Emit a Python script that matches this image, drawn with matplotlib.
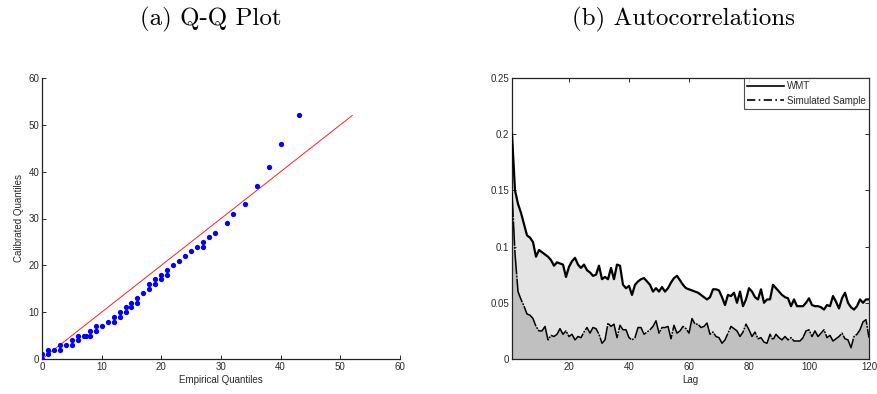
import numpy as np
import matplotlib
matplotlib.use("Agg")
import matplotlib.pyplot as plt
from matplotlib.lines import Line2D

# Q-Q plot: empirical vs calibrated quantiles
empirical = [0, 0, 1, 1, 2, 3, 3, 4, 5, 5, 6, 6, 7, 7.4, 8, 8, 9, 9, 10, 11,
             12, 12, 13, 13, 14, 14, 15, 15, 16, 16, 17, 18, 18, 19, 19, 20, 20,
             21, 21, 22, 23, 24, 25, 26, 27, 27, 28, 29, 31, 32, 34, 36, 38, 40, 43]
calibrated = [0, 1, 1, 2, 2, 2, 3, 3, 3, 4, 4, 5, 5, 5, 5, 6, 6, 7, 7, 8,
              8, 9, 9, 10, 10, 11, 11, 12, 12, 13, 14, 15, 16, 16, 17, 17, 18,
              18, 19, 20, 21, 22, 23, 24, 24, 25, 26, 27, 29, 31, 33, 37, 41, 46, 52]
ref_line = [0, 52]

# Autocorrelations by lag
lags = np.arange(1, 121)
acf_wmt = [
    0.200, 0.150, 0.138, 0.130, 0.120, 0.110, 0.108, 0.104, 0.091, 0.097,
    0.095, 0.093, 0.091, 0.088, 0.083, 0.086, 0.085, 0.084, 0.073, 0.082,
    0.087, 0.090, 0.084, 0.081, 0.084, 0.079, 0.077, 0.074, 0.075, 0.083,
    0.071, 0.073, 0.071, 0.081, 0.071, 0.084, 0.083, 0.066, 0.063, 0.065,
    0.057, 0.066, 0.069, 0.071, 0.072, 0.069, 0.066, 0.060, 0.063, 0.060,
    0.064, 0.060, 0.063, 0.068, 0.072, 0.074, 0.070, 0.066, 0.063, 0.062,
    0.061, 0.060, 0.059, 0.057, 0.055, 0.053, 0.055, 0.062, 0.062, 0.061,
    0.055, 0.048, 0.057, 0.056, 0.059, 0.050, 0.060, 0.047, 0.053, 0.063,
    0.060, 0.055, 0.053, 0.062, 0.050, 0.053, 0.053, 0.066, 0.063, 0.060,
    0.057, 0.055, 0.054, 0.047, 0.053, 0.047, 0.047, 0.047, 0.050, 0.054,
    0.048, 0.047, 0.047, 0.046, 0.044, 0.048, 0.047, 0.056, 0.051, 0.045,
    0.054, 0.059, 0.050, 0.046, 0.044, 0.047, 0.053, 0.050, 0.053, 0.053]
acf_sim = [
    0.148, 0.094, 0.060, 0.053, 0.047, 0.040, 0.039, 0.036, 0.029, 0.025,
    0.025, 0.029, 0.017, 0.021, 0.020, 0.022, 0.027, 0.022, 0.025, 0.020,
    0.022, 0.017, 0.020, 0.019, 0.024, 0.028, 0.023, 0.028, 0.027, 0.022,
    0.014, 0.017, 0.032, 0.029, 0.031, 0.019, 0.030, 0.026, 0.026, 0.019,
    0.017, 0.019, 0.028, 0.028, 0.022, 0.024, 0.026, 0.029, 0.034, 0.023,
    0.028, 0.028, 0.029, 0.018, 0.030, 0.023, 0.025, 0.029, 0.027, 0.023,
    0.036, 0.031, 0.031, 0.028, 0.029, 0.032, 0.022, 0.024, 0.020, 0.019,
    0.014, 0.017, 0.023, 0.029, 0.027, 0.025, 0.020, 0.024, 0.031, 0.026,
    0.020, 0.024, 0.018, 0.019, 0.015, 0.014, 0.022, 0.017, 0.022, 0.019,
    0.017, 0.020, 0.017, 0.019, 0.016, 0.016, 0.016, 0.019, 0.025, 0.026,
    0.020, 0.025, 0.020, 0.023, 0.026, 0.019, 0.021, 0.016, 0.018, 0.020,
    0.023, 0.018, 0.017, 0.010, 0.020, 0.022, 0.026, 0.033, 0.035, 0.019]

qq_ticks = [0, 10, 20, 30, 40, 50, 60]
acf_xticks = [20, 40, 60, 80, 100, 120]
acf_yticks = [0, 0.05, 0.1, 0.15, 0.2, 0.25]
acf_yticklabels = ["0", "0.05", "0.1", "0.15", "0.2", "0.25"]

plt.rcParams["font.family"] = ["Liberation Sans", "DejaVu Sans"]
tick_color = "#2a2a2a"
fs = 7

fig = plt.figure(figsize=(8.78, 3.94), dpi=100)

# ---- (a) Q-Q plot ----
ax1 = fig.add_axes([42 / 878, 35 / 394, 358 / 878, 281 / 394])
ax1.plot(ref_line, ref_line, color="#ff2020", lw=0.7, zorder=2)
ax1.plot(empirical, calibrated, "o", color="#0000ff", ms=3.8, mec="none", zorder=3)
ax1.set_xlim(0, 60)
ax1.set_ylim(0, 60)
ax1.set_xticks(qq_ticks)
ax1.set_yticks(qq_ticks)
for s in ["top", "right"]:
    ax1.spines[s].set_visible(False)
for s in ["left", "bottom"]:
    ax1.spines[s].set_linewidth(0.9)
    ax1.spines[s].set_color("#222222")
ax1.tick_params(direction="in", length=3, width=0.7, labelsize=fs,
                colors=tick_color, pad=2)
ax1.set_xlabel("Empirical Quantiles", fontsize=fs, color=tick_color, labelpad=2)
ax1.set_ylabel("Calibrated Quantiles", fontsize=fs, color=tick_color, labelpad=3)

# ---- (b) Autocorrelations ----
ax2 = fig.add_axes([512 / 878, 35 / 394, 357 / 878, 281 / 394])
ax2.fill_between(lags, 0, acf_wmt, color="#e4e4e4", lw=0, zorder=1)
ax2.fill_between(lags, 0, acf_sim, color="#c0c0c0", lw=0, zorder=2)
ax2.plot(lags, acf_wmt, color="black", lw=1.6, zorder=4)
ax2.plot(lags, acf_sim, color="black", lw=1.1, zorder=4,
         dashes=(16, 0.8, 1.2, 0.8))
ax2.set_xlim(1, 120)
ax2.set_ylim(0, 0.25)
ax2.set_xticks(acf_xticks)
ax2.set_yticks(acf_yticks)
ax2.set_yticklabels(acf_yticklabels)
for s in ax2.spines.values():
    s.set_linewidth(0.9)
    s.set_color("#222222")
ax2.tick_params(direction="in", length=3, width=0.7, labelsize=fs,
                colors=tick_color, top=True, right=True, pad=2)
ax2.set_xlabel("Lag", fontsize=fs, color=tick_color, labelpad=2)

handles = [Line2D([], [], color="black", lw=1.2),
           Line2D([], [], color="black", lw=1.2, dashes=(5, 2, 1, 2))]
leg = ax2.legend(handles, ["WMT", "Simulated Sample"], loc="upper right",
                 fontsize=fs, frameon=True, fancybox=False, borderaxespad=0,
                 handlelength=3.8, handletextpad=0.3, borderpad=0.35,
                 labelspacing=0.45)
leg.get_frame().set_edgecolor("#222222")
leg.get_frame().set_linewidth(0.8)
for t in leg.get_texts():
    t.set_color(tick_color)

# Panel titles
title_kw = dict(fontsize=18, family="cmr10", ha="center", va="center")
fig.text(211 / 878, 1 - 19 / 394, "(a) Q-Q Plot", **title_kw)
fig.text(683 / 878, 1 - 19 / 394, "(b) Autocorrelations", **title_kw)

fig.savefig("out.png", dpi=100)
